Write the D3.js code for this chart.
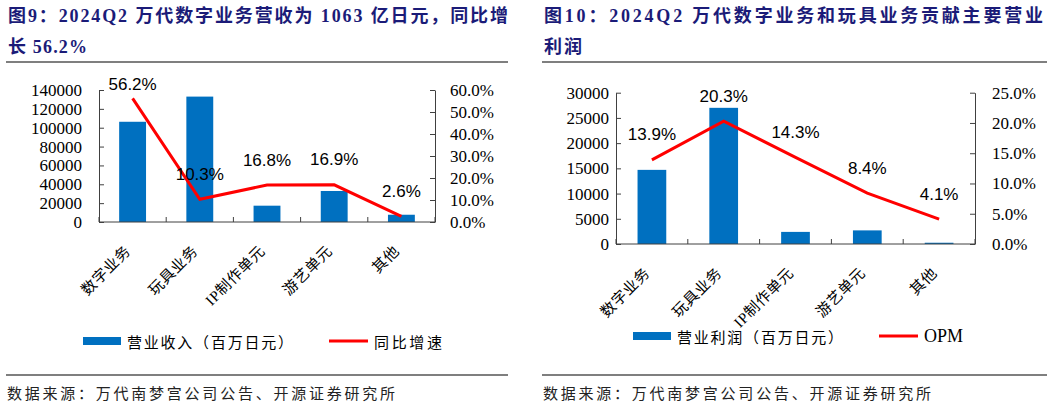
<!DOCTYPE html>
<html><head><meta charset="utf-8">
<script src="https://cdn.jsdelivr.net/npm/d3@7"></script>
<style>
html,body{margin:0;padding:0;background:#fff;}
svg{display:block;}
</style></head>
<body>
<svg id="c" width="1057" height="405"></svg>
<script>
// ---------- data ----------
const categories = ["数字业务", "玩具业务", "IP制作单元", "游艺单元", "其他"];
const revenue = [106300, 133000, 17300, 32900, 7700];          // 营业收入（百万日元）
const revenueYoY = [56.2, 10.3, 16.8, 16.9, 2.6];              // 同比增速 %
const opProfit = [14700, 27000, 2400, 2700, 250];              // 营业利润（百万日元）
const opm = [13.9, 20.3, 14.3, 8.4, 4.1];                      // OPM %
const revTicks = [0, 20000, 40000, 60000, 80000, 100000, 120000, 140000];
const yoyTicks = [0, 10, 20, 30, 40, 50, 60];
const profitTicks = [0, 5000, 10000, 15000, 20000, 25000, 30000];
const opmTicks = [0, 5, 10, 15, 20, 25];
const title1 = ["图9：2024Q2 万代数字业务营收为 1063 亿日元，同比增", "长 56.2%"];
const title2 = ["图10：2024Q2  万代数字业务和玩具业务贡献主要营业", "利润"];
const legend1 = ["营业收入（百万日元）", "同比增速"];
const legend2 = ["营业利润（百万日元）", "OPM"];
const sourceText = "数据来源：万代南梦宫公司公告、开源证券研究所";

// ---------- styles ----------
const BLUE = "#0070C0", RED = "#FF0000", AXIS = "#404040", NAVY = "#1B1B78";
const SERIF = "'Liberation Serif','Times New Roman',serif";
const CJK = "'Noto Sans CJK SC','Noto Sans',sans-serif";
const SANS = "'Liberation Sans',Arial,sans-serif";

const svg = d3.select("#c");
svg.append("rect").attr("width", 1057).attr("height", 405).attr("fill", "#fff");

function panel(cfg) {
  const g = svg.append("g");
  // title
  cfg.title.forEach((t, i) => {
    const tx = g.append("text").attr("x", cfg.titleX).attr("y", cfg.titleY[i])
      .attr("font-family", SERIF + "," + CJK).attr("font-weight", "bold")
      .attr("font-size", 18).attr("fill", NAVY).text(t);
    if (cfg.titleLen[i]) tx.attr("textLength", cfg.titleLen[i]).attr("lengthAdjust", "spacing");
  });
  // rules
  g.append("line").attr("x1", cfg.ruleX[0]).attr("x2", cfg.ruleX[1]).attr("y1", 62).attr("y2", 62)
    .attr("stroke", "#7f7f7f").attr("stroke-width", 2);
  g.append("line").attr("x1", cfg.ruleX[0]).attr("x2", cfg.ruleX[1]).attr("y1", 375).attr("y2", 375)
    .attr("stroke", "#7f7f7f").attr("stroke-width", 2);
  g.append("text").attr("x", cfg.ruleX[0] + 1).attr("y", 392).attr("dominant-baseline", "central")
    .attr("font-family", CJK).attr("font-size", 15).attr("fill", "#222")
    .attr("textLength", 388).attr("lengthAdjust", "spacing").text(sourceText);

  const x = d3.scaleBand().domain(categories).range([cfg.left, cfg.right]);
  const yL = d3.scaleLinear().domain([0, d3.max(cfg.lTicks)]).range([cfg.bottom, cfg.top]);
  const yR = d3.scaleLinear().domain([0, d3.max(cfg.rTicks)]).range([cfg.bottom, cfg.top]);

  // bars
  const bw = x.bandwidth() * 0.4;
  g.selectAll(".bar").data(cfg.bars).join("rect")
    .attr("x", (d, i) => x(categories[i]) + (x.bandwidth() - bw) / 2)
    .attr("y", d => yL(d)).attr("width", bw).attr("height", d => cfg.bottom - yL(d))
    .attr("fill", BLUE);

  // axes
  const aL = g.append("g").attr("transform", `translate(${cfg.left},0)`)
    .call(d3.axisLeft(yL).tickValues(cfg.lTicks).tickSize(-5).tickSizeOuter(0).tickPadding(cfg.lPad).tickFormat(d3.format("d")));
  const aR = g.append("g").attr("transform", `translate(${cfg.right},0)`)
    .call(d3.axisRight(yR).tickValues(cfg.rTicks).tickSize(-5).tickSizeOuter(0).tickPadding(cfg.rPad).tickFormat(d => d3.format(".1f")(d) + "%"));
  [aL, aR].forEach(a => {
    a.select(".domain").attr("stroke", AXIS);
    a.selectAll(".tick line").attr("stroke", AXIS);
    a.selectAll("text").attr("font-family", SERIF).attr("font-size", 17).attr("fill", "#000");
  });
  // bottom axis with ticks at category boundaries
  g.append("line").attr("x1", cfg.left).attr("x2", cfg.right).attr("y1", cfg.bottom).attr("y2", cfg.bottom).attr("stroke", AXIS);
  g.selectAll(".ctick").data(d3.range(categories.length + 1)).join("line")
    .attr("x1", i => cfg.left + i * x.bandwidth()).attr("x2", i => cfg.left + i * x.bandwidth())
    .attr("y1", cfg.bottom).attr("y2", cfg.bottom - 5).attr("stroke", AXIS);
  // category labels
  g.selectAll(".clab").data(categories).join("text")
    .attr("transform", d => `translate(${x(d) + x.bandwidth() / 2 - 1},${cfg.bottom + 30}) rotate(-45)`)
    .attr("text-anchor", "end").attr("font-family", SERIF + "," + CJK).attr("font-size", 15)
    .attr("letter-spacing", 0.6).attr("fill", "#000").text(d => d);

  // line
  const line = d3.line().x((d, i) => x(categories[i]) + x.bandwidth() / 2).y(d => yR(d));
  g.append("path").attr("d", line(cfg.line)).attr("fill", "none").attr("stroke", RED).attr("stroke-width", 3);
  g.selectAll(".dlab").data(cfg.line).join("text")
    .attr("x", (d, i) => x(categories[i]) + x.bandwidth() / 2)
    .attr("y", d => Math.max(yR(d) - 25, cfg.top - 6))
    .attr("text-anchor", "middle").attr("dominant-baseline", "central")
    .attr("font-family", SANS).attr("font-size", 17).attr("fill", "#000")
    .text(d => d3.format(".1f")(d) + "%");

  // legend
  const L = cfg.legend;
  g.append("rect").attr("x", L.x).attr("y", L.y - 4).attr("width", 38).attr("height", 8).attr("fill", BLUE);
  g.append("text").attr("x", L.x + 44).attr("y", L.y).attr("dominant-baseline", "central")
    .attr("font-family", CJK).attr("font-size", 15).attr("fill", "#000")
    .attr("textLength", 166).attr("lengthAdjust", "spacing").text(cfg.legendText[0]);
  g.append("line").attr("x1", L.lx).attr("x2", L.lx + 39).attr("y1", L.y).attr("y2", L.y)
    .attr("stroke", RED).attr("stroke-width", 3);
  const t2 = g.append("text").attr("x", L.lx + 45).attr("y", L.y).attr("dominant-baseline", "central")
    .attr("font-family", cfg.legendText[1] === "OPM" ? SERIF : CJK).attr("font-size", cfg.legendText[1] === "OPM" ? 18 : 15)
    .attr("fill", "#000").text(cfg.legendText[1]);
  if (cfg.legendText[1] !== "OPM") t2.attr("textLength", 68).attr("lengthAdjust", "spacing");
}

panel({
  title: title1, titleX: 8, titleY: [22, 53], titleLen: [500, 79], ruleX: [6, 508],
  left: 99, right: 435, top: 90, bottom: 222, lTicks: revTicks, rTicks: yoyTicks, lPad: 17, rPad: 15,
  bars: revenue, line: revenueYoY,
  legend: { x: 83, y: 341, lx: 329 }, legendText: legend1
});
panel({
  title: title2, titleX: 544, titleY: [22, 53], titleLen: [499, 38], ruleX: [542, 1047],
  left: 616, right: 975, top: 92.7, bottom: 244, lTicks: profitTicks, rTicks: opmTicks, lPad: 7, rPad: 17,
  bars: opProfit, line: opm,
  legend: { x: 633, y: 336, lx: 879 }, legendText: legend2
});
</script>
</body></html>
